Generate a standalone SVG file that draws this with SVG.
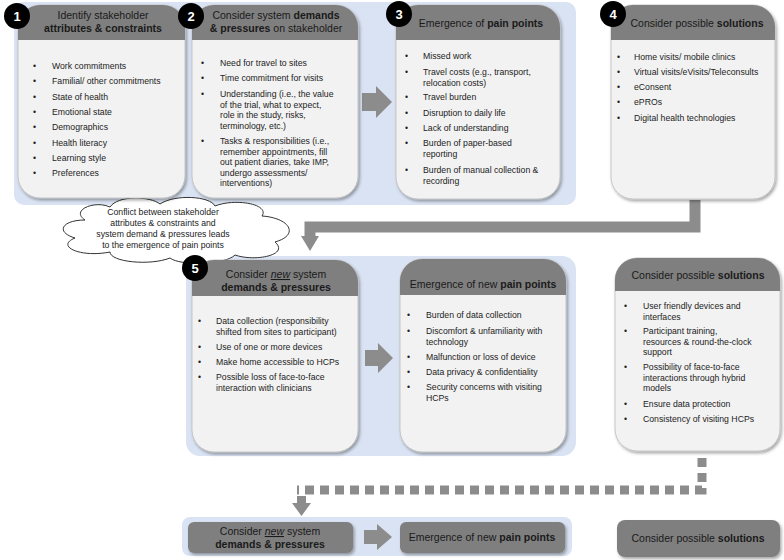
<svg xmlns="http://www.w3.org/2000/svg" width="784" height="560" viewBox="0 0 784 560">
<defs>
<style>
text{font-family:"Liberation Sans",Arial,sans-serif;fill:#222}
.b{font-size:8.7px}
.h{font-size:10px;text-anchor:middle}
.hw{font-size:10.5px;text-anchor:middle;fill:#1a1a1a}
.bold{font-weight:bold}
.card{fill:#f2f2f2;stroke:#bbb;stroke-width:0.8}
.head{fill:#7f7f7f}
.panel{fill:#dae3f3}
.badge{fill:#000}
.bt{fill:#fff;font-size:13px;text-anchor:middle;font-weight:bold}
.conn{fill:none;stroke:#8c8c8c;stroke-width:11}
.dot{fill:none;stroke:#8c8c8c;stroke-width:9;stroke-dasharray:9 6}
.arr{fill:#8c8c8c}
</style>
<filter id="sh" x="-10%" y="-10%" width="130%" height="130%"><feDropShadow dx="1.5" dy="2" stdDeviation="1.5" flood-color="#000" flood-opacity="0.35"/></filter>
<clipPath id="c1"><rect x="18" y="5" width="167" height="193" rx="22"/></clipPath>
<clipPath id="c2"><rect x="192" y="5" width="166" height="193" rx="22"/></clipPath>
<clipPath id="c3"><rect x="396" y="5" width="164" height="194" rx="22"/></clipPath>
<clipPath id="c4"><rect x="611" y="5" width="164" height="194" rx="22"/></clipPath>
<clipPath id="c5"><rect x="192" y="260" width="166" height="192" rx="22"/></clipPath>
<clipPath id="c6"><rect x="400" y="259" width="166" height="193" rx="22"/></clipPath>
<clipPath id="c7"><rect x="615" y="258" width="165" height="193" rx="22"/></clipPath>
</defs>
<rect width="784" height="560" fill="#fff"/>
<rect class="panel" x="14" y="2" width="562" height="203" rx="10"/>
<rect class="panel" x="186" y="256" width="390" height="200" rx="14"/>
<rect class="panel" x="182" y="517" width="390" height="39" rx="8"/>

<g id="connectors">
<path class="conn" d="M695 200 V227 H310 V238"/>
<polygon class="arr" points="301,236 319,236 310,251"/>
<path class="dot" d="M702 458 V490 H297"/>
<rect class="arr" x="297" y="496" width="9" height="8"/>
<polygon class="arr" points="292,503 311,503 301.5,516"/>
<polygon class="arr" points="362,93 376,93 376,86 392,102 376,118 376,111 362,111"/>
<polygon class="arr" points="365,350 378,350 378,343 393,358 378,373 378,366 365,366"/>
<polygon class="arr" points="364,530 377,530 377,524 392,537 377,550 377,544 364,544"/>
</g>

<g id="cloud">
<path d="M85 220 C70 210 95 200 110 207 C118 195 150 196 160 204 C175 194 210 196 215 206 C235 198 270 204 262 216 C290 218 300 235 275 242 C290 255 255 262 235 255 C225 265 180 266 170 258 C150 266 110 262 110 252 C80 258 55 246 75 238 C55 232 62 220 85 220 Z" fill="#fff" stroke="#333" stroke-width="1"/>
<text class="h" style="font-size:8.7px" x="163" y="215">Conflict between stakeholder</text>
<text class="h" style="font-size:8.7px" x="163" y="226">attributes &amp; constraints and</text>
<text class="h" style="font-size:8.7px" x="163" y="237">system demand &amp; pressures leads</text>
<text class="h" style="font-size:8.7px" x="163" y="248">to the emergence of pain points</text>
</g>

<g id="n1">
<rect class="card" x="18" y="5" width="167" height="193" rx="22" filter="url(#sh)"/>
<rect class="head" x="18" y="5" width="167" height="35" clip-path="url(#c1)"/>
<text class="hw" x="103" y="19">Identify stakeholder</text>
<text class="hw bold" x="103" y="32">attributes &amp; constraints</text>
<g class="b">
<text x="33" y="69">•</text><text x="52" y="69">Work commitments</text>
<text x="33" y="84">•</text><text x="52" y="84">Familial/ other commitments</text>
<text x="33" y="100">•</text><text x="52" y="100">State of health</text>
<text x="33" y="115">•</text><text x="52" y="115">Emotional state</text>
<text x="33" y="130">•</text><text x="52" y="130">Demographics</text>
<text x="33" y="146">•</text><text x="52" y="146">Health literacy</text>
<text x="33" y="161">•</text><text x="52" y="161">Learning style</text>
<text x="33" y="176">•</text><text x="52" y="176">Preferences</text>
</g>
<circle class="badge" cx="17" cy="16" r="13"/><text class="bt" x="17" y="21">1</text>
</g>

<g id="n2">
<rect class="card" x="192" y="5" width="166" height="193" rx="22" filter="url(#sh)"/>
<rect class="head" x="192" y="5" width="166" height="35" clip-path="url(#c2)"/>
<text class="hw" x="276" y="19">Consider system <tspan class="bold">demands</tspan></text>
<text class="hw" x="276" y="32"><tspan class="bold">&amp; pressures</tspan> on stakeholder</text>
<g class="b">
<text x="201" y="66">•</text><text x="220" y="66">Need for travel to sites</text>
<text x="201" y="81">•</text><text x="220" y="81">Time commitment for visits</text>
<text x="201" y="97">•</text><text x="220" y="97">Understanding (i.e., the value</text>
<text x="220" y="107.5">of the trial, what to expect,</text>
<text x="220" y="118">role in the study, risks,</text>
<text x="220" y="128.5">terminology, etc.)</text>
<text x="201" y="144">•</text><text x="220" y="144">Tasks &amp; responsibilities (i.e.,</text>
<text x="220" y="154.5">remember appointments, fill</text>
<text x="220" y="165">out patient diaries, take IMP,</text>
<text x="220" y="175.5">undergo assessments/</text>
<text x="220" y="186">interventions)</text>
</g>
<circle class="badge" cx="191" cy="16" r="13"/><text class="bt" x="191" y="21">2</text>
</g>

<g id="n3">
<rect class="card" x="396" y="5" width="164" height="194" rx="22" filter="url(#sh)"/>
<rect class="head" x="396" y="5" width="164" height="35" clip-path="url(#c3)"/>
<text class="hw" x="481" y="27">Emergence of <tspan class="bold">pain points</tspan></text>
<g class="b">
<text x="405" y="59">•</text><text x="423" y="59">Missed work</text>
<text x="405" y="75">•</text><text x="423" y="75">Travel costs (e.g., transport,</text>
<text x="423" y="85.5">relocation costs)</text>
<text x="405" y="100">•</text><text x="423" y="100">Travel burden</text>
<text x="405" y="116">•</text><text x="423" y="116">Disruption to daily life</text>
<text x="405" y="131">•</text><text x="423" y="131">Lack of understanding</text>
<text x="405" y="146">•</text><text x="423" y="146">Burden of paper-based</text>
<text x="423" y="156.5">reporting</text>
<text x="405" y="173">•</text><text x="423" y="173">Burden of manual collection &amp;</text>
<text x="423" y="183.5">recording</text>
</g>
<circle class="badge" cx="399" cy="14" r="13"/><text class="bt" x="399" y="19">3</text>
</g>

<g id="n4">
<rect class="card" x="611" y="5" width="164" height="194" rx="22" filter="url(#sh)"/>
<rect class="head" x="611" y="5" width="164" height="35" clip-path="url(#c4)"/>
<text class="hw" x="697" y="27">Consider possible <tspan class="bold">solutions</tspan></text>
<g class="b">
<text x="617" y="60">•</text><text x="634" y="60">Home visits/ mobile clinics</text>
<text x="617" y="75">•</text><text x="634" y="75">Virtual visits/eVisits/Teleconsults</text>
<text x="617" y="90">•</text><text x="634" y="90">eConsent</text>
<text x="617" y="105">•</text><text x="634" y="105">ePROs</text>
<text x="617" y="121">•</text><text x="634" y="121">Digital health technologies</text>
</g>
<circle class="badge" cx="613" cy="14" r="13"/><text class="bt" x="613" y="19">4</text>
</g>

<g id="n5">
<rect class="card" x="192" y="260" width="166" height="192" rx="22" filter="url(#sh)"/>
<rect class="head" x="192" y="260" width="166" height="36" clip-path="url(#c5)"/>
<text class="hw" x="276" y="278">Consider <tspan font-style="italic" text-decoration="underline">new</tspan> system</text>
<text class="hw bold" x="276" y="291">demands &amp; pressures</text>
<g class="b">
<text x="198" y="324">•</text><text x="216" y="324">Data collection (responsibility</text>
<text x="216" y="334.5">shifted from sites to participant)</text>
<text x="198" y="350">•</text><text x="216" y="350">Use of one or more devices</text>
<text x="198" y="365">•</text><text x="216" y="365">Make home accessible to HCPs</text>
<text x="198" y="380">•</text><text x="216" y="380">Possible loss of face-to-face</text>
<text x="216" y="390.5">interaction with clinicians</text>
</g>
<circle class="badge" cx="195" cy="268" r="13"/><text class="bt" x="195" y="273">5</text>
</g>

<g id="n6">
<rect class="card" x="400" y="259" width="166" height="193" rx="22" filter="url(#sh)"/>
<rect class="head" x="400" y="259" width="166" height="36" clip-path="url(#c6)"/>
<text class="hw" x="483" y="288">Emergence of new <tspan class="bold">pain points</tspan></text>
<g class="b">
<text x="407" y="318">•</text><text x="426" y="318">Burden of data collection</text>
<text x="407" y="334">•</text><text x="426" y="334">Discomfort &amp; unfamiliarity with</text>
<text x="426" y="344.5">technology</text>
<text x="407" y="360">•</text><text x="426" y="360">Malfunction or loss of device</text>
<text x="407" y="375">•</text><text x="426" y="375">Data privacy &amp; confidentiality</text>
<text x="407" y="390">•</text><text x="426" y="390">Security concerns with visiting</text>
<text x="426" y="400.5">HCPs</text>
</g>
</g>

<g id="n7">
<rect class="card" x="615" y="258" width="165" height="193" rx="22" filter="url(#sh)"/>
<rect class="head" x="615" y="258" width="165" height="33" clip-path="url(#c7)"/>
<text class="hw" x="698" y="279">Consider possible <tspan class="bold">solutions</tspan></text>
<g class="b">
<text x="624" y="309">•</text><text x="643" y="309">User friendly devices and</text>
<text x="643" y="319.5">interfaces</text>
<text x="624" y="334">•</text><text x="643" y="334">Participant training,</text>
<text x="643" y="344.5">resources &amp; round-the-clock</text>
<text x="643" y="355">support</text>
<text x="624" y="370">•</text><text x="643" y="370">Possibility of face-to-face</text>
<text x="643" y="380.5">interactions through hybrid</text>
<text x="643" y="391">models</text>
<text x="624" y="407">•</text><text x="643" y="407">Ensure data protection</text>
<text x="624" y="422">•</text><text x="643" y="422">Consistency of visiting HCPs</text>
</g>
</g>

<g id="n8">
<rect class="head" x="188" y="522" width="165" height="31" rx="6" filter="url(#sh)"/>
<text class="hw" x="270" y="535">Consider <tspan font-style="italic" text-decoration="underline">new</tspan> system</text>
<text class="hw bold" x="270" y="548">demands &amp; pressures</text>
</g>
<g id="n9">
<rect class="head" x="400" y="522" width="165" height="31" rx="6" filter="url(#sh)"/>
<text class="hw" x="482" y="541">Emergence of new <tspan class="bold">pain points</tspan></text>
</g>
<g id="n10">
<rect class="head" x="617" y="520" width="163" height="37" rx="8" filter="url(#sh)"/>
<text class="hw" x="698" y="542">Consider possible <tspan class="bold">solutions</tspan></text>
</g>
</svg>
